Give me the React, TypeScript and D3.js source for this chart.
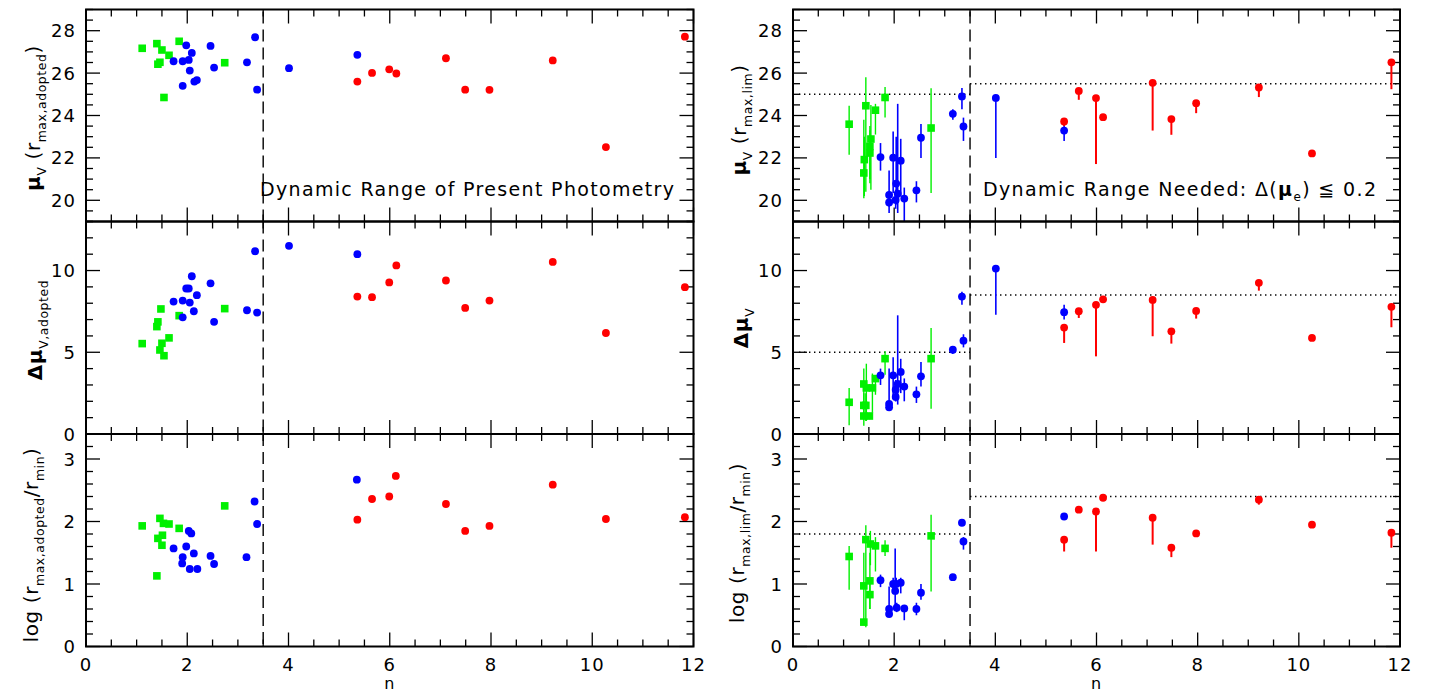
import React from 'react';
import * as d3 from 'd3';

type P = [number, number];
type E = [number, number, number, number];

// ---------- LEFT COLUMN (adopted) ----------
const leftTopGreen: P[] = [[1.11,27.17],[1.40,27.39],[1.50,27.09],[1.64,26.84],[1.84,27.50],[1.46,26.51],[1.42,26.42],[1.54,24.85],[2.74,26.49]];
const leftTopBlue: P[] = [[1.98,27.31],[2.46,27.28],[2.09,26.95],[2.03,26.62],[1.73,26.56],[1.91,26.56],[2.05,26.12],[2.53,26.26],[2.19,25.67],[2.14,25.60],[1.91,25.40],[3.18,26.51],[3.34,27.69],[3.38,25.22],[4.01,26.23],[5.36,26.86]];
const leftTopRed: P[] = [[5.36,25.60],[5.65,26.01],[5.99,26.18],[6.13,25.98],[7.11,26.70],[7.49,25.22],[7.97,25.21],[9.22,26.60],[10.27,22.51],[11.83,27.72]];

const leftMidGreen: P[] = [[1.48,7.65],[1.84,7.24],[2.74,7.67],[1.42,6.86],[1.40,6.57],[1.64,5.88],[1.11,5.53],[1.50,5.55],[1.46,5.14],[1.54,4.79]];
const leftMidBlue: P[] = [[3.34,11.18],[4.01,11.51],[5.36,11.0],[2.09,9.65],[2.46,9.22],[1.98,8.90],[2.03,8.90],[2.19,8.49],[1.73,8.10],[1.91,8.16],[2.05,8.04],[2.13,7.51],[1.91,7.14],[2.53,6.86],[3.18,7.57],[3.38,7.43]];
const leftMidRed: P[] = [[5.36,8.41],[5.65,8.37],[5.99,9.27],[6.13,10.31],[7.11,9.39],[7.49,7.71],[7.97,8.16],[9.22,10.53],[10.27,6.18],[11.83,8.98]];

const leftBotGreen: P[] = [[1.11,1.93],[1.46,2.05],[1.53,1.97],[1.64,1.96],[1.84,1.89],[1.42,1.73],[1.51,1.78],[1.50,1.62],[1.40,1.13],[2.74,2.25]];
const leftBotBlue: P[] = [[2.03,1.85],[2.08,1.81],[1.98,1.60],[1.73,1.57],[2.13,1.49],[1.91,1.43],[2.46,1.45],[1.90,1.33],[2.53,1.32],[2.05,1.24],[2.20,1.24],[3.17,1.43],[3.33,2.32],[3.38,1.96],[5.35,2.67]];
const leftBotRed: P[] = [[5.65,2.36],[5.36,2.03],[5.99,2.40],[6.12,2.73],[7.11,2.28],[7.49,1.85],[7.97,1.93],[9.22,2.59],[10.27,2.04],[11.83,2.07]];

// ---------- RIGHT COLUMN (limits) [n, value, low, high] ----------
const rightTopGreen: E[] = [[1.11,23.59,22.15,24.46],[1.44,24.46,20.4,25.8],[1.63,24.25,23.1,24.55],[1.82,24.85,23.9,25.34],[1.54,22.89,20.5,24.5],[1.52,22.54,21.0,23.5],[1.52,22.23,20.8,23.3],[1.41,21.92,20.2,23.0],[1.40,21.29,20.1,23.8],[2.73,23.41,20.35,25.29]];
const rightTopBlue: E[] = [[1.73,22.04,21.4,22.7],[1.98,22.01,20.35,23.25],[2.13,21.87,20.2,22.9],[2.04,20.79,19.8,23.0],[2.07,20.31,19.4,24.55],[1.90,20.25,19.4,21.4],[1.90,19.9,19.7,20.1],[2.03,20.02,19.6,20.5],[2.20,20.08,19.0,20.6],[2.44,20.47,19.9,20.9],[2.53,22.95,22.0,23.6],[3.16,24.08,23.8,24.3],[3.34,24.9,24.3,25.3],[3.37,23.48,22.8,23.9],[4.01,24.83,22.0,24.83],[5.36,23.29,22.8,23.7]];
const rightTopRed: E[] = [[5.36,23.72,23.5,23.72],[5.65,25.16,24.74,25.16],[5.99,24.82,21.71,24.82],[6.13,23.92,23.92,23.92],[7.11,25.54,23.29,25.54],[7.48,23.83,23.09,23.83],[7.97,24.58,24.11,24.58],[9.21,25.32,24.87,25.32],[10.26,22.21,22.1,22.21],[11.83,26.51,25.24,26.51]];

const rightMidGreen: E[] = [[1.11,1.94,0.53,2.82],[1.40,3.06,1.0,4.0],[1.45,2.82,0.8,4.3],[1.57,2.82,1.3,3.7],[1.63,3.39,2.4,3.6],[1.82,4.61,3.63,5.06],[1.40,1.75,0.5,2.5],[1.44,1.75,0.8,2.5],[1.40,1.10,0.9,1.3],[1.51,1.10,0.9,1.3],[2.73,4.61,1.55,6.49]];
const rightMidBlue: E[] = [[1.73,3.59,3.0,4.0],[1.98,3.59,2.2,4.7],[2.13,3.80,2.5,4.6],[2.07,3.06,1.8,7.26],[2.03,2.71,2.0,3.3],[2.03,2.27,2.0,2.6],[2.20,2.90,2.0,3.4],[1.90,1.84,1.5,4.0],[1.90,1.63,1.5,1.9],[2.44,2.43,1.9,2.9],[2.53,3.53,2.9,4.4],[3.16,5.16,4.9,5.3],[3.37,5.71,5.3,6.1],[3.34,8.41,7.9,8.7],[4.01,10.12,7.3,10.12],[5.36,7.45,7.0,7.9]];
const rightMidRed: E[] = [[5.36,6.51,5.57,6.51],[5.65,7.51,7.1,7.51],[5.99,7.90,4.75,7.90],[6.13,8.24,8.24,8.24],[7.11,8.2,5.98,8.2],[7.48,6.28,5.53,6.28],[7.97,7.53,7.06,7.53],[9.21,9.25,8.77,9.25],[10.26,5.88,5.88,5.88],[11.83,7.78,6.53,7.78]];

const rightBotGreen: E[] = [[1.11,1.44,0.91,1.61],[1.44,1.71,0.31,1.94],[1.53,1.64,1.3,1.85],[1.63,1.61,1.2,1.75],[1.82,1.57,1.45,1.7],[1.40,0.97,0.35,1.5],[1.52,1.05,0.6,1.5],[1.52,0.83,0.6,1.0],[1.40,0.39,0.35,0.45],[2.73,1.77,0.88,2.11]];
const rightBotBlue: E[] = [[1.73,1.06,0.95,1.15],[1.98,1.0,0.9,1.1],[2.04,1.0,0.9,1.1],[2.13,1.02,0.85,1.1],[2.02,0.89,0.6,1.57],[2.05,0.62,0.55,0.7],[2.20,0.61,0.42,0.65],[1.90,0.6,0.55,0.96],[1.90,0.52,0.5,0.55],[2.44,0.6,0.5,0.7],[2.53,0.86,0.75,1.0],[3.16,1.11,1.11,1.11],[3.34,1.98,1.98,1.98],[3.37,1.68,1.55,1.75],[5.36,2.08,2.08,2.08]];
const rightBotRed: E[] = [[5.36,1.71,1.52,1.71],[5.65,2.19,2.19,2.19],[5.99,2.16,1.52,2.16],[6.13,2.38,2.38,2.38],[7.11,2.06,1.63,2.06],[7.48,1.58,1.43,1.58],[7.97,1.81,1.81,1.81],[9.21,2.35,2.27,2.35],[10.26,1.95,1.95,1.95],[11.83,1.82,1.58,1.82]];

// limits (dotted) for right panels: [left of cut, right of cut]
const topLimits = [25, 25.5];
const midLimits = [5, 8.5];
const botLimits = [1.8, 2.4];
const cutN = 3.5;

const xDomain: [number, number] = [0, 12];
const xMajorTicks = [0, 2, 4, 6, 8, 10, 12];
const topDomain: [number, number] = [19, 29];
const topMajor = [20, 22, 24, 26, 28];
const midDomain: [number, number] = [0, 13];
const midMajor = [0, 5, 10];
const botDomain: [number, number] = [0, 3.4];
const botMajor = [0, 1, 2, 3];

const GREEN = '#00f000';
const BLUE = '#0000ff';
const RED = '#ff0000';
const FONT = "'DejaVu Sans', sans-serif";

const ROWS = [[9.5, 221.5], [221.5, 434], [434, 646.5]];
const COLS = [[86, 693.5], [793, 1400]];

type Seg = { t: string; sub?: boolean };

function RichText({ segs, x, y, size, rotate }: { segs: Seg[]; x: number; y: number; size: number; rotate?: boolean }) {
  let cur = 0;
  const out: React.ReactNode[] = [];
  segs.forEach((s, i) => {
    const target = s.sub ? size * 0.3 : 0;
    const dy = target - cur;
    cur = target;
    out.push(
      <tspan key={i} dy={dy} fontSize={s.sub ? size * 0.62 : size} fontWeight={s.t.includes('μ') || s.t.includes('Δ') ? 'bold' : 'normal'}>
        {s.t}
      </tspan>
    );
  });
  return (
    <text x={x} y={y} textAnchor="middle" fontFamily={FONT} fill="#000" letterSpacing={0.6} transform={rotate ? `rotate(-90 ${x} ${y})` : undefined}>
      {out}
    </text>
  );
}

function Panel({ col, row, domain, major, minorStep, points, errs, limits, xLabels }: {
  col: number; row: number; domain: [number, number]; major: number[]; minorStep: number;
  points?: { data: P[]; color: string; square?: boolean }[];
  errs?: { data: E[]; color: string; square?: boolean; w: number }[];
  limits?: number[]; xLabels: boolean;
}) {
  const [x0, x1] = COLS[col];
  const [y0, y1] = ROWS[row];
  const x = d3.scaleLinear().domain(xDomain).range([x0, x1]);
  const y = d3.scaleLinear().domain(domain).range([y1, y0]);
  const xMinor = d3.range(0, 12.0001, 0.5);
  const yMinor = d3.range(Math.ceil(domain[0] / minorStep) * minorStep, domain[1] + 1e-6, minorStep);
  const isMajorX = (v: number) => Math.abs(v / 2 - Math.round(v / 2)) < 1e-6;
  const isMajorY = (v: number) => major.some(m => Math.abs(m - v) < 1e-6);
  const ticks: React.ReactNode[] = [];
  xMinor.forEach((v, i) => {
    const L = isMajorX(v) ? 14 : 7;
    const px = x(v);
    ticks.push(<line key={'xb' + i} x1={px} x2={px} y1={y1} y2={y1 - L} />);
    ticks.push(<line key={'xt' + i} x1={px} x2={px} y1={y0} y2={y0 + L} />);
  });
  yMinor.forEach((v, i) => {
    const L = isMajorY(v) ? 14 : 7;
    const py = y(v);
    ticks.push(<line key={'yl' + i} x1={x0} x2={x0 + L} y1={py} y2={py} />);
    ticks.push(<line key={'yr' + i} x1={x1} x2={x1 - L} y1={py} y2={py} />);
  });
  const marker = (px: number, py: number, color: string, square: boolean | undefined, key: string) =>
    square ? <rect key={key} x={px - 3.8} y={py - 3.8} width={7.6} height={7.6} fill={color} />
      : <circle key={key} cx={px} cy={py} r={3.9} fill={color} />;
  return (
    <g>
      <g stroke="#000" strokeWidth={1.3}>{ticks}</g>
      {limits && (
        <g stroke="#000" strokeWidth={1.4} strokeDasharray="1.4,3.6">
          <line x1={x(0) + 6} x2={x(cutN)} y1={y(limits[0])} y2={y(limits[0])} />
          <line x1={x(cutN)} x2={x(12)} y1={y(limits[1])} y2={y(limits[1])} />
        </g>
      )}
      <line x1={x(cutN)} x2={x(cutN)} y1={y0} y2={y1} stroke="#000" strokeWidth={1.4} strokeDasharray="12,6" strokeDashoffset={row === 0 ? -20 : 0} />
      {errs && errs.map((s, si) => (
        <g key={'e' + si} stroke={s.color} strokeWidth={s.w}>
          {s.data.map((d, i) => d[2] !== d[3] ? (
            <line key={i} x1={x(d[0])} x2={x(d[0])} y1={Math.min(y(d[2]), y1)} y2={Math.max(y(d[3]), y0)} />
          ) : null)}
        </g>
      ))}
      {errs && errs.map((s, si) => (
        <g key={'m' + si}>{s.data.map((d, i) => marker(x(d[0]), y(d[1]), s.color, s.square, 'm' + i))}</g>
      ))}
      {points && points.map((s, si) => (
        <g key={'p' + si}>{s.data.map((d, i) => marker(x(d[0]), y(d[1]), s.color, s.square, 'p' + i))}</g>
      ))}
      <rect x={x0} y={y0} width={x1 - x0} height={y1 - y0} fill="none" stroke="#000" strokeWidth={2} />
      <g fontFamily={FONT} fontSize={18} fill="#000" textAnchor="end" letterSpacing={1}>
        {major.map(m => (
          <text key={m} x={x0 - 10} y={y(m) + 6.5}>{m}</text>
        ))}
      </g>
      {xLabels && (
        <g fontFamily={FONT} fill="#000" textAnchor="middle" letterSpacing={1}>
          {xMajorTicks.map(t => <text key={t} x={x(t)} y={671} fontSize={18}>{t}</text>)}
          <text x={x(6)} y={689} fontSize={16}>n</text>
        </g>
      )}
    </g>
  );
}

export default function App() {
  return (
    <svg width={1429} height={693} style={{ position: 'absolute', left: 0, top: 0, background: '#fff' }}>
      <rect width={1429} height={693} fill="#fff" />
      {/* left column */}
      <Panel col={0} row={0} domain={topDomain} major={topMajor} minorStep={0.5} xLabels={false}
        points={[{ data: leftTopGreen, color: GREEN, square: true }, { data: leftTopBlue, color: BLUE }, { data: leftTopRed, color: RED }]} />
      <Panel col={0} row={1} domain={midDomain} major={midMajor} minorStep={1} xLabels={false}
        points={[{ data: leftMidGreen, color: GREEN, square: true }, { data: leftMidBlue, color: BLUE }, { data: leftMidRed, color: RED }]} />
      <Panel col={0} row={2} domain={botDomain} major={botMajor} minorStep={0.2} xLabels={true}
        points={[{ data: leftBotGreen, color: GREEN, square: true }, { data: leftBotBlue, color: BLUE }, { data: leftBotRed, color: RED }]} />
      {/* right column */}
      <Panel col={1} row={0} domain={topDomain} major={topMajor} minorStep={0.5} xLabels={false} limits={topLimits}
        errs={[{ data: rightTopGreen, color: GREEN, square: true, w: 1.4 }, { data: rightTopBlue, color: BLUE, w: 1.6 }, { data: rightTopRed, color: RED, w: 2 }]} />
      <Panel col={1} row={1} domain={midDomain} major={midMajor} minorStep={1} xLabels={false} limits={midLimits}
        errs={[{ data: rightMidGreen, color: GREEN, square: true, w: 1.4 }, { data: rightMidBlue, color: BLUE, w: 1.6 }, { data: rightMidRed, color: RED, w: 2 }]} />
      <Panel col={1} row={2} domain={botDomain} major={botMajor} minorStep={0.2} xLabels={true} limits={botLimits}
        errs={[{ data: rightBotGreen, color: GREEN, square: true, w: 1.4 }, { data: rightBotBlue, color: BLUE, w: 1.6 }, { data: rightBotRed, color: RED, w: 2 }]} />

      {/* annotations */}
      <text x={260} y={196} fontFamily={FONT} fontSize={19} textLength={414} lengthAdjust="spacing">Dynamic Range of Present Photometry</text>
      <text x={983} y={196} fontFamily={FONT} fontSize={19} textLength={393} lengthAdjust="spacing">
        <tspan>Dynamic Range Needed: Δ(</tspan><tspan fontWeight="bold">μ</tspan><tspan fontSize={12} dy={5}>e</tspan><tspan dy={-5}>) ≦ 0.2</tspan>
      </text>

      {/* y-axis titles */}
      <RichText rotate x={40} y={118} size={20} segs={[{ t: 'μ' }, { t: 'V', sub: true }, { t: ' (r' }, { t: 'max,adopted', sub: true }, { t: ')' }]} />
      <RichText rotate x={42} y={330} size={20} segs={[{ t: 'Δμ' }, { t: 'V,adopted', sub: true }]} />
      <RichText rotate x={38} y={545} size={20} segs={[{ t: 'log (r' }, { t: 'max,adopted', sub: true }, { t: '/r' }, { t: 'min', sub: true }, { t: ')' }]} />
      <RichText rotate x={746} y={120} size={20} segs={[{ t: 'μ' }, { t: 'V', sub: true }, { t: ' (r' }, { t: 'max,lim', sub: true }, { t: ')' }]} />
      <RichText rotate x={748} y={328} size={20} segs={[{ t: 'Δμ' }, { t: 'V', sub: true }]} />
      <RichText rotate x={744} y={543} size={20} segs={[{ t: 'log (r' }, { t: 'max,lim', sub: true }, { t: '/r' }, { t: 'min', sub: true }, { t: ')' }]} />
    </svg>
  );
}
